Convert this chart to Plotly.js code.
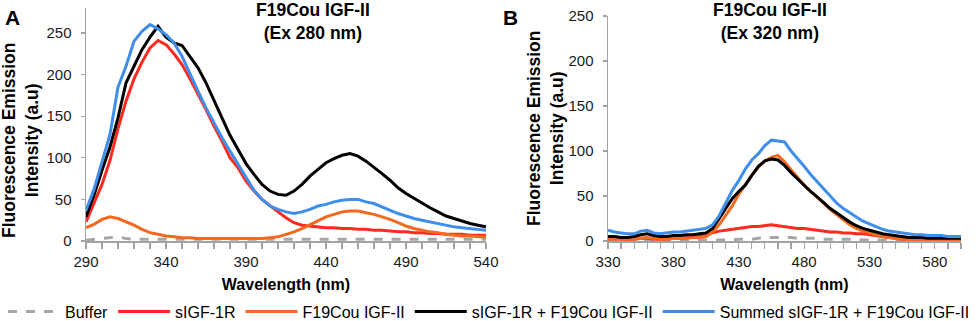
<!DOCTYPE html>
<html>
<head>
<meta charset="utf-8">
<script src="https://cdn.plot.ly/plotly-3.0.1.min.js"></script>
<style>
  html, body { margin: 0; padding: 0; background: #fff; }
  #chart { width: 978px; height: 321px; }
</style>
</head>
<body>
<div id="chart"></div>
<script>
// ---------- Data ----------
const seriesNames = ["Buffer", "sIGF-1R", "F19Cou IGF-II", "sIGF-1R + F19Cou IGF-II", "Summed sIGF-1R + F19Cou IGF-II"];

// Panel A: excitation 280 nm, wavelengths 290..540 nm (5 nm steps)
const wavelengthA = [290,295,300,305,310,315,320,325,330,335,340,345,350,355,360,365,370,375,380,385,390,395,400,405,410,415,420,425,430,435,440,445,450,455,460,465,470,475,480,485,490,495,500,505,510,515,520,525,530,535,540];
const bufferA  = [1,2,3,4,5,3,2,2,2,2,2,2,2,2,2,2,2,2,2,2,2,2,2,2,2,2,2,2,2,2,2,2,2,2,2,2,2,2,2,2,2,2,2,2,2,2,2,2,2,2,2];
const receptorA = [23,45,68,97,135,168,195,215,232,241,236,225,212,195,177,158,138,120,100,88,72,60,50,42,35,28,22,19,18,17,16,16,15,15,14,14,13,13,12,11,11,10,10,9,9,8,8,8,7,7,7];
const ligandA  = [16,20,26,29,27,23,19,14,10,8,6,5,4,4,3,3,3,3,3,3,3,3,3,4,5,8,11,15,20,25,29,32,35,36,36,34,32,29,26,22,18,15,13,11,10,8,7,6,6,5,5];
const complexA = [29,55,85,113,148,190,210,230,245,258,245,238,235,222,208,190,170,148,127,110,93,80,68,60,56,55,60,68,78,86,94,99,103,105,102,96,89,81,73,64,57,51,45,40,35,30,27,24,21,19,17];
const summedA  = [37,62,95,128,185,210,240,252,260,255,248,238,222,200,180,160,142,124,108,92,76,61,50,42,38,35,33,35,38,42,44,47,49,50,50,47,45,41,37,33,30,27,25,23,21,19,17,16,15,14,13];

// Panel B: excitation 320 nm, wavelengths 330..600 nm (5 nm steps)
const wavelengthB = [330,335,340,345,350,355,360,365,370,375,380,385,390,395,400,405,410,415,420,425,430,435,440,445,450,455,460,465,470,475,480,485,490,495,500,505,510,515,520,525,530,535,540,545,550,555,560,565,570,575,580,585,590,595,600];
const bufferB  = [1,1,1,1,1,1,1,1,1,1,1,1,1,1,1,1,1,1,1,1,2,2,2,3,4,4,4,4,4,3,3,3,3,2,2,2,2,2,2,1,1,1,1,1,1,1,1,1,1,1,1,1,1,1,1];
const receptorB = [3,3,2,2,2,3,3,2,2,2,3,3,4,5,6,7,9,11,12,13,14,15,16,16,17,18,17,16,15,14,14,13,12,11,10,10,9,9,8,8,7,6,5,4,3,2,2,2,2,2,2,2,2,2,2];
const ligandB  = [2,2,2,2,2,3,4,3,2,2,3,3,3,4,4,5,10,18,28,39,52,63,73,82,89,93,95,88,79,70,62,55,49,42,35,29,23,18,14,11,9,7,5,4,3,2,2,2,1,1,1,1,1,1,1];
const complexB = [5,5,4,4,5,7,8,6,5,5,6,6,7,7,8,9,14,25,37,47,55,62,73,83,89,91,90,84,76,69,61,55,49,42,36,31,26,21,17,14,12,10,8,7,6,5,4,4,4,3,3,3,3,3,3];
const summedB  = [12,10,9,8,8,11,12,9,8,9,10,10,11,12,13,14,18,28,42,56,67,80,90,97,106,112,111,110,100,92,83,74,66,57,49,42,36,31,26,22,19,16,13,11,10,9,8,7,7,6,6,6,5,5,5];

const xTickValsA = [290,340,390,440,490,540];
const xTickValsB = [330,380,430,480,530,580];
const yTickVals = [0,50,100,150,200,250];

// ---------- Styles ----------
const colors = ["#A6A6A6", "#FF2A1F", "#F4691F", "#000000", "#3F8EEA"];
const dashes = ["dash", "solid", "solid", "solid", "solid"];
const FONT = "'Liberation Sans', Arial, sans-serif";

const dataA = [bufferA, receptorA, ligandA, complexA, summedA];
const dataB = [bufferB, receptorB, ligandB, complexB, summedB];

const traces = [];
dataA.forEach((ys, i) => traces.push({
  type: "scatter", mode: "lines", x: wavelengthA, y: ys, name: seriesNames[i],
  xaxis: "x", yaxis: "y", legendgroup: "g" + i, showlegend: true,
  line: {color: colors[i], width: 3, dash: dashes[i], shape: "linear"}
}));
dataB.forEach((ys, i) => traces.push({
  type: "scatter", mode: "lines", x: wavelengthB, y: ys, name: seriesNames[i],
  xaxis: "x2", yaxis: "y2", legendgroup: "g" + i, showlegend: false,
  line: {color: colors[i], width: 3, dash: dashes[i], shape: "linear"}
}));

// plot area: top 8px, bottom 241px (height 233)
const W = 978, TOP = 8, BOT = 241, H = BOT - TOP;
const px = v => v / W;
const py = v => (BOT - v) / H;

const axisCommon = {
  showgrid: false, zeroline: false, showline: true, linecolor: "#A3A3A3", linewidth: 1.5,
  ticks: "outside", tickcolor: "#A3A3A3", tickwidth: 1.2,
  tickfont: {family: FONT, size: 15, color: "#1a1a1a"}, fixedrange: true, automargin: false
};

const xTitle = {text: "<b>Wavelength (nm)</b>", font: {family: FONT, size: 16, color: "#000"}, standoff: 10};

const layout = {
  width: 978, height: 321,
  margin: {l: 0, r: 0, t: TOP, b: 321 - BOT, pad: 0, autoexpand: false},
  paper_bgcolor: "#fff", plot_bgcolor: "#fff",
  font: {family: FONT, color: "#000"},
  showlegend: true,
  legend: {
    orientation: "h", x: 0.5, xanchor: "center", y: py(311.5), yanchor: "middle",
    font: {family: FONT, size: 16, color: "#000"}, itemwidth: 52, traceorder: "normal",
    bgcolor: "rgba(0,0,0,0)"
  },
  xaxis: Object.assign({}, axisCommon, {
    domain: [px(86), px(486)], range: [290, 540], anchor: "y",
    tickmode: "array", tickvals: xTickValsA, ticklen: 6,
    minor: {dtick: 10, tick0: 290, ticks: "outside", ticklen: 6, tickcolor: "#A3A3A3", tickwidth: 1.2},
    title: xTitle
  }),
  yaxis: Object.assign({}, axisCommon, {
    domain: [0, 1], range: [0, 280], anchor: "x",
    tickmode: "array", tickvals: yTickVals, ticklen: 4, ticklabelstandoff: 6
  }),
  xaxis2: Object.assign({}, axisCommon, {
    domain: [px(608), px(961)], range: [330, 600], anchor: "y2",
    tickmode: "array", tickvals: xTickValsB, ticklen: 6,
    minor: {dtick: 10, tick0: 330, ticks: "outside", ticklen: 6, tickcolor: "#A3A3A3", tickwidth: 1.2},
    title: xTitle
  }),
  yaxis2: Object.assign({}, axisCommon, {
    domain: [0, py(16)], range: [0, 250], anchor: "x2",
    tickmode: "array", tickvals: yTickVals, ticklen: 4, ticklabelstandoff: 6
  }),
  annotations: [
    {text: "<b>A</b>", x: px(12), y: py(17.5), xref: "paper", yref: "paper", showarrow: false,
     xanchor: "center", yanchor: "middle", font: {family: FONT, size: 21, color: "#000"}},
    {text: "<b>B</b>", x: px(510), y: py(17.5), xref: "paper", yref: "paper", showarrow: false,
     xanchor: "center", yanchor: "middle", font: {family: FONT, size: 21, color: "#000"}},
    {text: "<b>F19Cou IGF-II<br>(Ex 280 nm)</b>", x: px(313), y: py(21), xref: "paper", yref: "paper", showarrow: false,
     xanchor: "center", yanchor: "middle", font: {family: FONT, size: 17.5, color: "#000"}},
    {text: "<b>F19Cou IGF-II<br>(Ex 320 nm)</b>", x: px(770), y: py(21), xref: "paper", yref: "paper", showarrow: false,
     xanchor: "center", yanchor: "middle", font: {family: FONT, size: 17.5, color: "#000"}},
    {text: "<b>Fluorescence Emission<br>Intensity (a.u)</b>", x: px(20), y: py(140), xref: "paper", yref: "paper", showarrow: false,
     textangle: -90, xanchor: "center", yanchor: "middle", font: {family: FONT, size: 17.5, color: "#000"}},
    {text: "<b>Fluorescence Emission<br>Intensity (a.u)</b>", x: px(545), y: py(128), xref: "paper", yref: "paper", showarrow: false,
     textangle: -90, xanchor: "center", yanchor: "middle", font: {family: FONT, size: 17.5, color: "#000"}}
  ]
};

Plotly.newPlot("chart", traces, layout, {displayModeBar: false, staticPlot: true});
</script>
</body>
</html>
